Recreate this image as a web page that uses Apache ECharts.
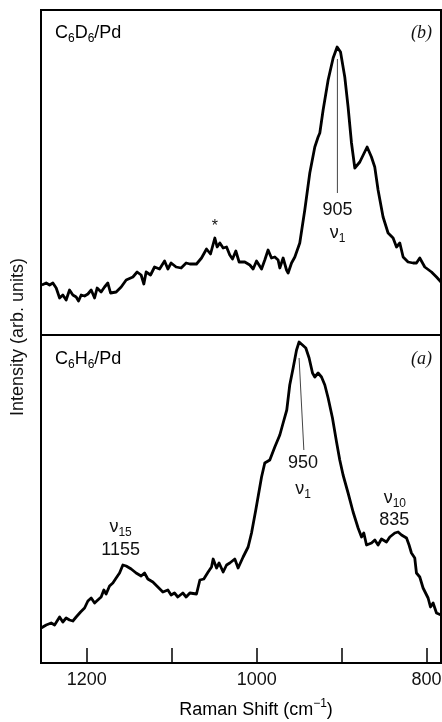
<!DOCTYPE html>
<html>
<head>
<meta charset="utf-8">
<script src="https://cdn.jsdelivr.net/npm/echarts@6/dist/echarts.min.js"></script>
<style>
html,body{margin:0;padding:0;background:#fff;}
#chart{width:442px;height:722px;}
</style>
</head>
<body>
<div id="chart"></div>
<script>
// Raman shift (cm-1) and intensity (arb. units) — panel (b) C6D6/Pd
const shiftTop = [1253.0,1247.9,1243.9,1240.0,1236.1,1232.1,1228.3,1224.4,1220.4,1216.5,1212.6,1209.8,1206.7,1202.7,1198.8,1194.9,1190.9,1187.9,1183.2,1179.2,1175.3,1172.1,1165.5,1159.6,1153.7,1145.8,1140.8,1136.1,1132.9,1130.2,1125.0,1120.3,1114.4,1108.5,1104.6,1100.8,1094.9,1089.0,1083.1,1078.7,1070.9,1065.0,1059.1,1054.4,1049.3,1046.6,1043.4,1039.5,1035.5,1031.7,1028.5,1024.6,1020.7,1014.0,1008.1,1004.2,1000.2,994.3,990.5,986.6,982.6,978.7,974.8,972.8,968.9,964.9,963.0,959.0,955.1,949.3,943.4,937.5,931.6,927.7,925.7,921.8,915.9,910.0,905.3,901.3,896.3,892.4,888.4,884.5,878.6,870.0,864.9,861.0,857.1,851.2,845.3,839.4,835.4,831.5,827.6,821.8,815.9,811.9,808.0,802.1,794.2,788.3,783];
const intensityTop = [50,52,50,52,47,37,40,35,45,40,38,34,40,39,41,45,37,47,43,48,52,42,43,48,55,58,63,60,51,63,60,68,66,74,66,72,68,67,72,71,71,77,86,81,97,88,92,87,88,80,76,84,73,73,70,66,74,66,75,85,77,78,75,67,77,65,62,72,78,92,125,162,188,198,202,225,255,277,288,283,258,228,192,167,173,188,178,168,145,118,102,97,88,92,78,73,72,72,77,68,63,58,53];

// panel (a) C6H6/Pd
const shiftBottom = [1253.8,1247.9,1242.0,1238.0,1232.1,1228.3,1224.4,1220.4,1216.5,1212.6,1207.4,1202.7,1198.8,1194.9,1190.9,1187.1,1183.2,1180.0,1177.3,1173.3,1169.4,1165.5,1161.5,1157.6,1153.7,1147.8,1142.0,1136.1,1132.1,1128.2,1122.3,1116.4,1110.5,1104.6,1100.8,1096.8,1092.9,1087.0,1083.1,1078.7,1070.9,1066.9,1062.3,1057.2,1053.2,1051.3,1047.3,1044.3,1039.5,1035.5,1031.7,1025.8,1021.9,1016.0,1010.1,1006.1,1001.1,994.3,990.5,984.6,978.7,972.8,968.9,964.6,961.1,957.1,953.1,950.1,946.1,942.2,938.3,934.3,931.6,927.7,923.7,919.8,915.9,910.8,906.0,902.2,898.3,892.4,886.5,880.6,876.6,873.9,870.7,864.8,860.9,857.1,853.1,847.2,843.3,837.4,833.5,829.5,823.6,820.6,817.8,813.9,811.9,808.0,804.1,798.2,795.4,792.3,788.3,783];
const intensityBottom = [35,38,40,38,46,41,45,43,42,46,51,55,62,65,60,63,66,73,69,77,80,85,90,98,97,94,90,87,90,84,81,76,71,73,68,70,66,70,66,70,69,83,84,91,96,104,95,100,91,98,100,104,95,106,116,130,153,186,200,203,216,228,240,253,278,295,313,321,318,315,305,290,286,290,286,278,265,245,221,203,188,170,151,135,126,130,118,120,123,118,124,121,126,130,131,128,125,118,110,105,90,86,75,65,56,60,50,48];

// axis
const xMin = 783, xMax = 1254;
const tickValues = [800, 900, 1000, 1100, 1200];
const labelValues = [800, 1000, 1200];

// peak assignment leader lines (data units)
const leaderTop = [[905, 276], [905, 142]];
const leaderBottom = [[950.1, 305], [944.5, 213]];

// annotation texts anchored in data units
const annTop = [
  {value: [904.8, 125], text: '{n|905}'},
  {value: [904.8, 102], text: '{n|ν}{s|1}'},
  {value: [1049.3, 108], text: '{st|*}'}
];
const annBottom = [
  {value: [945.4, 200], text: '{n|950}'},
  {value: [945.4, 174], text: '{n|ν}{s|1}'},
  {value: [1160.3, 136], text: '{n|ν}{s|15}'},
  {value: [1160.3, 113], text: '{n|1155}'},
  {value: [837.4, 165], text: '{n|ν}{s|10}'},
  {value: [838.0, 143], text: '{n|835}'}
];

const FONT = '"Liberation Sans", Arial, Helvetica, sans-serif';
const richStyles = {
  n: {fontSize: 18, fontFamily: FONT, color: '#111', lineHeight: 24, verticalAlign: 'middle'},
  s: {fontSize: 12, fontFamily: FONT, color: '#111', lineHeight: 24, verticalAlign: 'bottom'},
  p: {fontSize: 12, fontFamily: FONT, color: '#111', lineHeight: 24, verticalAlign: 'top'},
  st: {fontSize: 16, fontFamily: FONT, color: '#111'}
};

const chart = echarts.init(document.getElementById('chart'), null, {renderer: 'canvas'});

function pairs(xs, ys) { return xs.map((x, i) => [x, ys[i]]); }

const option = {
  animation: false,
  backgroundColor: '#fff',
  grid: [
    {left: 41, right: 1, top: 10, height: 325, show: true, borderColor: '#000', borderWidth: 2, backgroundColor: 'transparent', containLabel: false, outerBoundsMode: 'none'},
    {left: 41, right: 1, top: 335, height: 328, show: true, borderColor: '#000', borderWidth: 2, backgroundColor: 'transparent', containLabel: false, outerBoundsMode: 'none'}
  ],
  xAxis: [
    {gridIndex: 0, type: 'value', min: xMin, max: xMax, inverse: true, show: false},
    {gridIndex: 1, type: 'value', min: xMin, max: xMax, inverse: true,
     axisLine: {show: true, lineStyle: {color: '#000', width: 2}},
     axisTick: {show: true, inside: true, length: 15, customValues: tickValues, lineStyle: {color: '#000', width: 1.5}},
     axisLabel: {show: true, customValues: labelValues, margin: 8, fontSize: 18, fontFamily: FONT, color: '#111',
                 formatter: v => String(v), hideOverlap: false},
     splitLine: {show: false}}
  ],
  yAxis: [
    {gridIndex: 0, type: 'value', min: 0, max: 325, show: false},
    {gridIndex: 1, type: 'value', min: 0, max: 328, show: false}
  ],
  series: [
    {type: 'line', xAxisIndex: 0, yAxisIndex: 0, data: pairs(shiftTop, intensityTop), symbol: 'none',
     lineStyle: {color: '#000', width: 2.8, join: 'round'}, silent: true, z: 3},
    {type: 'line', xAxisIndex: 1, yAxisIndex: 1, data: pairs(shiftBottom, intensityBottom), symbol: 'none',
     lineStyle: {color: '#000', width: 2.8, join: 'round'}, silent: true, z: 3},
    {type: 'line', xAxisIndex: 0, yAxisIndex: 0, data: leaderTop, symbol: 'none',
     lineStyle: {color: '#444', width: 1}, silent: true, z: 4},
    {type: 'line', xAxisIndex: 1, yAxisIndex: 1, data: leaderBottom, symbol: 'none',
     lineStyle: {color: '#444', width: 1}, silent: true, z: 4},
    {type: 'scatter', xAxisIndex: 0, yAxisIndex: 0, symbolSize: 1, itemStyle: {color: 'rgba(0,0,0,0)', opacity: 1}, silent: true, z: 5,
     data: annTop.map(a => ({value: a.value, txt: a.text})),
     label: {show: true, position: 'inside', formatter: p => p.data.txt, rich: richStyles}},
    {type: 'scatter', xAxisIndex: 1, yAxisIndex: 1, symbolSize: 1, itemStyle: {color: 'rgba(0,0,0,0)', opacity: 1}, silent: true, z: 5,
     data: annBottom.map(a => ({value: a.value, txt: a.text})),
     label: {show: true, position: 'inside', formatter: p => p.data.txt, rich: richStyles}}
  ],
  graphic: [
    {type: 'text', x: 55, y: 33, silent: true,
     style: {text: '{n|C}{s|6}{n|D}{s|6}{n|/Pd}', rich: richStyles, align: 'left', verticalAlign: 'middle'}},
    {type: 'text', x: 432, y: 33, silent: true,
     style: {text: '(b)', font: 'italic 18px "Liberation Serif", "Times New Roman", serif', fill: '#111', align: 'right', verticalAlign: 'middle'}},
    {type: 'text', x: 55, y: 359, silent: true,
     style: {text: '{n|C}{s|6}{n|H}{s|6}{n|/Pd}', rich: richStyles, align: 'left', verticalAlign: 'middle'}},
    {type: 'text', x: 432, y: 359, silent: true,
     style: {text: '(a)', font: 'italic 18px "Liberation Serif", "Times New Roman", serif', fill: '#111', align: 'right', verticalAlign: 'middle'}},
    {type: 'text', x: 18, y: 337, rotation: Math.PI / 2, silent: true,
     style: {text: 'Intensity (arb. units)', font: '18px ' + FONT, fill: '#111', align: 'center', verticalAlign: 'middle'}},
    {type: 'text', x: 256, y: 710, silent: true,
     style: {text: '{n|Raman Shift (cm}{p|−1}{n|)}', rich: richStyles, align: 'center', verticalAlign: 'middle'}}
  ]
};
chart.setOption(option);
</script>
</body>
</html>
